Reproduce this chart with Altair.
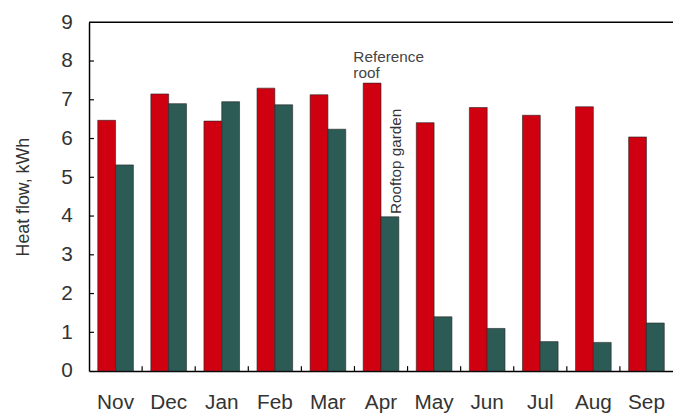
import altair as alt
import pandas as pd

months = ["Nov", "Dec", "Jan", "Feb", "Mar", "Apr", "May", "Jun", "Jul", "Aug", "Sep"]
reference_roof = [6.47, 7.15, 6.45, 7.30, 7.13, 7.43, 6.41, 6.80, 6.60, 6.82, 6.04]
rooftop_garden = [5.32, 6.90, 6.95, 6.87, 6.24, 3.98, 1.40, 1.10, 0.76, 0.74, 1.24]
series = ["Reference roof", "Rooftop garden"]
colors = ["#CF0010", "#2C5B56"]
y_ticks = [1, 2, 3, 4, 5, 6, 7, 8]
y_labels = [0, 1, 2, 3, 4, 5, 6, 7, 8, 9]

rows = []
for i, m in enumerate(months):
    rows.append({"month": m, "series": series[0], "value": reference_roof[i]})
    rows.append({"month": m, "series": series[1], "value": rooftop_garden[i]})
df = pd.DataFrame(rows)

W, H = 591, 353
FONT = "Liberation Sans"

xscale = alt.Scale(domain=months, paddingInner=0, paddingOuter=0)
yscale = alt.Scale(domain=[0, 9], nice=False)

x_axis = alt.Axis(title=None, labelAngle=0, ticks=False, tickSize=0, labelPadding=21,
                  labelFontSize=21, labelFont=FONT, labelColor="#333333",
                  labelOverlap=False, domainColor="#000000", domainWidth=1.5)
y_axis = alt.Axis(title="Heat flow, kWh", values=y_labels, ticks=False, tickSize=0,
                  labelOverlap=False, labelPadding=17, labelFontSize=21, labelFont=FONT,
                  labelColor="#333333", titleFontSize=18, titleFont=FONT, titleColor="#333333",
                  titleFontWeight="normal", titlePadding=29, grid=False,
                  domainColor="#000000", domainWidth=1.5)

bars = alt.Chart(df).mark_bar(stroke="#222222", strokeWidth=0.6).encode(
    x=alt.X("month:N", scale=xscale, sort=months, axis=x_axis),
    xOffset=alt.XOffset("series:N", scale=alt.Scale(domain=series, paddingOuter=0.49, paddingInner=0)),
    y=alt.Y("value:Q", scale=yscale, axis=y_axis),
    color=alt.Color("series:N", scale=alt.Scale(domain=series, range=colors), legend=None),
)

top_rule = alt.Chart(pd.DataFrame({"v": [9]})).mark_rule(color="#000000", strokeWidth=1.5).encode(
    y=alt.Y("v:Q", scale=yscale, axis=y_axis), x=alt.value(0), x2=alt.value(W + 10)
)

ytick_df = pd.DataFrame({"v": y_ticks})
yticks = alt.Chart(ytick_df).mark_rule(color="#000000", strokeWidth=1.2).encode(
    y=alt.Y("v:Q", scale=yscale, axis=y_axis), x=alt.value(0), x2=alt.value(5)
)

xtick_df = pd.DataFrame({"month": months[1:]})
xticks = alt.Chart(xtick_df).mark_rule(color="#000000", strokeWidth=1.2).encode(
    x=alt.X("month:N", scale=xscale, sort=months, bandPosition=0, axis=x_axis),
    y=alt.value(H), y2=alt.value(H - 5),
)

ann_df = pd.DataFrame({"month": ["Apr"], "ref_y": [7.98], "garden_y": [4.05]})

ref_label = alt.Chart(ann_df).mark_text(
    text=["Reference", "roof"], align="left", baseline="alphabetic", lineHeight=16,
    fontSize=15.5, font=FONT, color="#444444", dx=-28,
).encode(x=alt.X("month:N", scale=xscale, sort=months, axis=x_axis),
         y=alt.Y("ref_y:Q", scale=yscale, axis=y_axis))

garden_label = alt.Chart(ann_df).mark_text(
    text="Rooftop garden", align="left", baseline="middle", angle=270,
    fontSize=15.5, font=FONT, color="#333333", dx=0, dy=15,
).encode(x=alt.X("month:N", scale=xscale, sort=months, axis=x_axis),
         y=alt.Y("garden_y:Q", scale=yscale, axis=y_axis))

chart = alt.layer(bars, top_rule, yticks, xticks, ref_label, garden_label).properties(
    width=W, height=H,
    autosize=alt.AutoSizeParams(type="none"),
    padding={"left": 82, "top": 12, "right": 0, "bottom": 40},
    background="#ffffff",
).configure_view(stroke=None)

chart.save("out.html", embed_options={"renderer": "svg", "actions": False})
